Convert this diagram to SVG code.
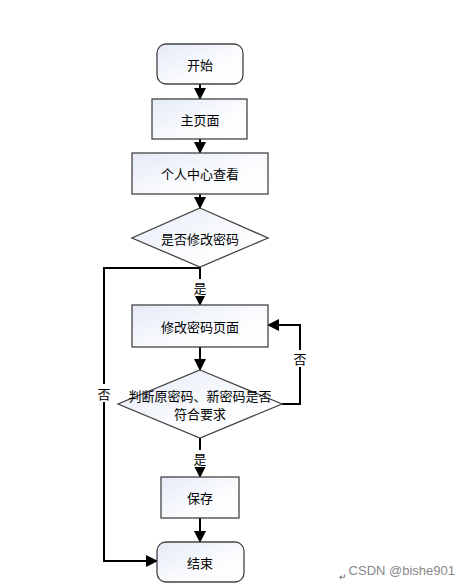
<svg xmlns="http://www.w3.org/2000/svg" width="470" height="586" viewBox="0 0 470 586">
<defs>
<linearGradient id="g" x1="0" y1="0" x2="1" y2="1">
<stop offset="0" stop-color="#e4eaf6"/>
<stop offset="0.6" stop-color="#fbfcfe"/>
<stop offset="1" stop-color="#ffffff"/>
</linearGradient>
<marker id="arr" viewBox="0 0 12 12" refX="11" refY="6" markerWidth="12" markerHeight="12" markerUnits="userSpaceOnUse" orient="auto">
<path d="M0,0 L12,6 L0,12 Z" fill="#000"/>
</marker>
<style>
.n{fill:url(#g);stroke:#444;stroke-width:1.3}
.t{font-family:"Noto Sans CJK SC","Liberation Sans",sans-serif;font-size:13px;fill:#000;text-anchor:middle;dominant-baseline:central}
.c{fill:none;stroke:#000;stroke-width:2;marker-end:url(#arr)}
.cl{fill:none;stroke:#000;stroke-width:2}
.lb{fill:#fff}
</style>
</defs>
<rect width="470" height="586" fill="#fff"/>
<g id="connectors">
<path class="c" d="M200,84 V99"/>
<path class="c" d="M200,139 V153"/>
<path class="c" d="M200,194 V208"/>
<path class="c" d="M200,267 V305"/>
<path class="cl" d="M200,268 H104 V561"/>
<path class="c" d="M103,561 H157"/>
<path class="c" d="M200,347 V370"/>
<path class="c" d="M282,404 H300 V325 H268"/>
<path class="c" d="M200,438 V477"/>
<path class="c" d="M200,518 V542"/>
<rect class="lb" x="193" y="279" width="14" height="17"/>
<text class="t" x="200" y="287">是</text>
<rect class="lb" x="96" y="384" width="15" height="18"/>
<text class="t" x="104" y="393">否</text>
<rect class="lb" x="293" y="350" width="15" height="17"/>
<text class="t" x="300" y="358">否</text>
<rect class="lb" x="193" y="450" width="14" height="17"/>
<text class="t" x="200" y="458">是</text>
</g>
<g id="start">
<rect class="n" x="157" y="44" width="86" height="40" rx="9"/>
<text class="t" x="200" y="64">开始</text>
</g>
<g id="main">
<rect class="n" x="152" y="99" width="95" height="40"/>
<text class="t" x="200" y="119">主页面</text>
</g>
<g id="center">
<rect class="n" x="132" y="153" width="136" height="41"/>
<text class="t" x="200" y="173">个人中心查看</text>
</g>
<g id="d1">
<path class="n" d="M200,208 L268,238 L200,267 L132,238 Z"/>
<text class="t" x="200" y="238">是否修改密码</text>
</g>
<g id="modify">
<rect class="n" x="132" y="305" width="136" height="42"/>
<text class="t" x="200" y="326">修改密码页面</text>
</g>
<g id="d2">
<path class="n" d="M200,370 L282,404 L200,438 L118,404 Z"/>
<text class="t" x="200" y="395">判断原密码、新密码是否</text>
<text class="t" x="200" y="413">符合要求</text>
</g>
<g id="save">
<rect class="n" x="161" y="477" width="78" height="41"/>
<text class="t" x="200" y="497">保存</text>
</g>
<g id="end">
<rect class="n" x="157" y="542" width="87" height="40" rx="9"/>
<text class="t" x="200" y="562">结束</text>
</g>
<text x="339" y="580" font-family="Liberation Sans, sans-serif" font-size="9" fill="#666">↵</text>
<text x="455" y="575" font-family="Liberation Sans, sans-serif" font-size="13" fill="#888" text-anchor="end">CSDN @bishe901</text>
</svg>
